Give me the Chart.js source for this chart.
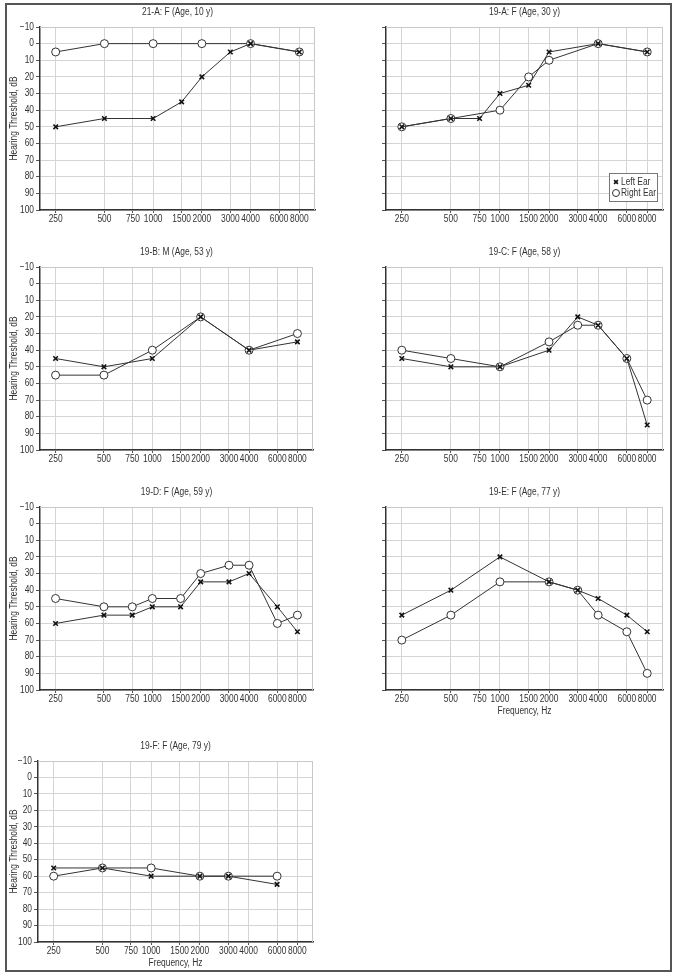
<!DOCTYPE html>
<html>
<head>
<meta charset="utf-8">
<script src="https://cdn.jsdelivr.net/npm/chart.js@4.4.1/dist/chart.umd.min.js"></script>
<style>
  html, body { margin: 0; padding: 0; background: #fff; }
  #fig { position: relative; width: 675px; height: 975px; }
  #frame { position: absolute; left: 5px; top: 3px; width: 663px; height: 965px; border: 2px solid #555; }
  .cell { position: absolute; }
</style>
</head>
<body>
<div id="fig"><div id="frame"></div></div>
<script>
// tick labels
var freqTicks = [250, 500, 750, 1000, 1500, 2000, 3000, 4000, 6000, 8000];
var dbTicks = [-10, 0, 10, 20, 30, 40, 50, 60, 70, 80, 90, 100];

var titles = ["21-A: F (Age, 10 y)", "19-A: F (Age, 30 y)", "19-B: M (Age, 53 y)",
  "19-C: F (Age, 58 y)", "19-D: F (Age, 59 y)", "19-E: F (Age, 77 y)", "19-F: F (Age, 79 y)"];

// 21-A
var a21LeftHz = [250, 500, 1000, 1500, 2000, 3000, 4000, 8000];
var a21Left = [50, 45, 45, 35, 20, 5, 0, 5];
var a21RightHz = [250, 500, 1000, 2000, 4000, 8000];
var a21Right = [5, 0, 0, 0, 0, 5];
// 19-A
var a19LeftHz = [250, 500, 750, 1000, 1500, 2000, 4000, 8000];
var a19Left = [50, 45, 45, 30, 25, 5, 0, 5];
var a19RightHz = [250, 500, 1000, 1500, 2000, 4000, 8000];
var a19Right = [50, 45, 40, 20, 10, 0, 5];
// 19-B
var b19LeftHz = [250, 500, 1000, 2000, 4000, 8000];
var b19Left = [45, 50, 45, 20, 40, 35];
var b19RightHz = [250, 500, 1000, 2000, 4000, 8000];
var b19Right = [55, 55, 40, 20, 40, 30];
// 19-C
var c19LeftHz = [250, 500, 1000, 2000, 3000, 4000, 6000, 8000];
var c19Left = [45, 50, 50, 40, 20, 25, 45, 85];
var c19RightHz = [250, 500, 1000, 2000, 3000, 4000, 6000, 8000];
var c19Right = [40, 45, 50, 35, 25, 25, 45, 70];
// 19-D
var d19LeftHz = [250, 500, 750, 1000, 1500, 2000, 3000, 4000, 6000, 8000];
var d19Left = [60, 55, 55, 50, 50, 35, 35, 30, 50, 65];
var d19RightHz = [250, 500, 750, 1000, 1500, 2000, 3000, 4000, 6000, 8000];
var d19Right = [45, 50, 50, 45, 45, 30, 25, 25, 60, 55];
// 19-E
var e19LeftHz = [250, 500, 1000, 2000, 3000, 4000, 6000, 8000];
var e19Left = [55, 40, 20, 35, 40, 45, 55, 65];
var e19RightHz = [250, 500, 1000, 2000, 3000, 4000, 6000, 8000];
var e19Right = [70, 55, 35, 35, 40, 55, 65, 90];
// 19-F
var f19LeftHz = [250, 500, 1000, 2000, 3000, 6000];
var f19Left = [55, 55, 60, 60, 60, 65];
var f19RightHz = [250, 500, 1000, 2000, 3000, 6000];
var f19Right = [60, 55, 55, 60, 60, 60];

var leftHz = [a21LeftHz, a19LeftHz, b19LeftHz, c19LeftHz, d19LeftHz, e19LeftHz, f19LeftHz];
var leftDb = [a21Left, a19Left, b19Left, c19Left, d19Left, e19Left, f19Left];
var rightHz = [a21RightHz, a19RightHz, b19RightHz, c19RightHz, d19RightHz, e19RightHz, f19RightHz];
var rightDb = [a21Right, a19Right, b19Right, c19Right, d19Right, e19Right, f19Right];

// plot boxes on the page
var boxes = [
  { col: 0, l: 40, r: 315, t: 27, b: 210 },
  { col: 1, l: 386, r: 663, t: 27, b: 210 },
  { col: 0, l: 40, r: 313, t: 267, b: 450 },
  { col: 1, l: 386, r: 663, t: 267, b: 450 },
  { col: 0, l: 40, r: 313, t: 507, b: 690 },
  { col: 1, l: 386, r: 663, t: 507, b: 690 },
  { col: 0, l: 38, r: 313, t: 761, b: 942 }
];
var xTitleOn = [false, false, false, false, false, true, true];
var legendOn = [false, true, false, false, false, false, false];

var ink = '#333';
Chart.defaults.font.family = '"Liberation Sans", Arial, sans-serif';
Chart.defaults.font.size = 10;
Chart.defaults.color = ink;

function pts(xs, ys) {
  return xs.map(function (x, i) { return { x: x, y: ys[i] }; });
}

// the original uses a narrow face; squeeze canvas text sideways
var narrowText = {
  id: 'narrowText',
  beforeInit: function (chart) {
    var c = chart.ctx;
    if (c._narrow) return;
    var fill = c.fillText;
    c.fillText = function (t, x, y, mw) {
      this.save();
      this.translate(x, y);
      this.scale(0.84, 1);
      fill.call(this, t, 0, 0);
      this.restore();
    };
    c._narrow = true;
  }
};

// light frame on top/right of the plot
var framePlugin = {
  id: 'frame',
  beforeDatasetsDraw: function (chart) {
    var a = chart.chartArea, c = chart.ctx;
    c.save();
    c.strokeStyle = '#c8c8c8';
    c.lineWidth = 1;
    c.beginPath();
    c.moveTo(a.left, a.top + 0.5);
    c.lineTo(a.right - 0.5, a.top + 0.5);
    c.lineTo(a.right - 0.5, a.bottom);
    c.stroke();
    c.restore();
  }
};

// boxed legend in the lower right of the plot
var boxLegend = {
  id: 'boxLegend',
  afterDraw: function (chart, args, opts) {
    if (!opts.show) return;
    var a = chart.chartArea, c = chart.ctx;
    var w = 48, h = 28;
    var x = a.right - 6 - w, y = a.bottom - 9 - h;
    c.save();
    c.fillStyle = '#fff';
    c.fillRect(x, y, w, h);
    c.strokeStyle = '#777';
    c.lineWidth = 1;
    c.strokeRect(x + 0.5, y + 0.5, w, h);
    c.font = '10px ' + Chart.defaults.font.family;
    c.textBaseline = 'middle';
    c.textAlign = 'left';
    chart.data.datasets.forEach(function (ds, i) {
      var yy = y + 9 + i * 11;
      c.strokeStyle = ds.pointBorderColor;
      c.fillStyle = ds.pointBackgroundColor;
      c.lineWidth = ds.pointBorderWidth;
      Chart.helpers.drawPoint(c, { pointStyle: ds.pointStyle, radius: ds.pointRadius - 0.5, borderWidth: ds.pointBorderWidth }, x + 7, yy);
      c.fillStyle = ink;
      c.fillText(ds.label, x + 12, yy + 0.5);
    });
    c.restore();
  }
};

boxes.forEach(function (p, k) {
  var cl = p.col === 0 ? 0 : 335;
  var cw = p.col === 0 ? 335 : 340;
  var ct = p.t - 27;
  var xh = 27;
  var ch = p.b - ct + xh;
  var div = document.createElement('div');
  div.className = 'cell';
  div.style.left = cl + 'px';
  div.style.top = ct + 'px';
  var cv = document.createElement('canvas');
  cv.width = cw; cv.height = ch;
  cv.style.width = cw + 'px'; cv.style.height = ch + 'px';
  div.appendChild(cv);
  document.getElementById('fig').appendChild(div);

  new Chart(cv, {
    type: 'line',
    data: {
      datasets: [
        {
          label: 'Left Ear',
          data: pts(leftHz[k], leftDb[k]),
          borderColor: ink,
          borderWidth: 1,
          pointStyle: 'crossRot',
          pointRadius: 3.2,
          pointBorderWidth: 1.6,
          pointBorderColor: '#111',
          pointBackgroundColor: '#111'
        },
        {
          label: 'Right Ear',
          data: pts(rightHz[k], rightDb[k]),
          borderColor: ink,
          borderWidth: 1,
          pointStyle: 'circle',
          pointRadius: 4,
          pointBorderWidth: 1,
          pointBorderColor: '#333',
          pointBackgroundColor: '#fff'
        }
      ]
    },
    options: {
      responsive: false,
      animation: false,
      events: [],
      layout: { padding: { left: 0, top: 0, bottom: 0, right: cl + cw - p.r } },
      plugins: {
        legend: { display: false },
        tooltip: { enabled: false },
        title: {
          display: true,
          text: titles[k],
          fullSize: false,
          color: ink,
          font: { size: 10, lineHeight: '12px', weight: 'normal' },
          padding: { top: 6, bottom: 9 }
        },
        boxLegend: { show: legendOn[k] }
      },
      scales: {
        x: {
          type: 'logarithmic',
          min: 200,
          max: 10000,
          afterBuildTicks: function (s) {
            s.ticks = freqTicks.map(function (v) { return { value: v }; });
          },
          afterFit: function (s) { s.height = xh; },
          ticks: {
            autoSkip: false,
            maxRotation: 0,
            minRotation: 0,
            padding: 0,
            color: ink,
            callback: function (v) { return String(v); }
          },
          grid: { color: '#d4d4d4', lineWidth: 1, tickLength: 3, tickColor: '#555' },
          border: { color: '#333', width: 1.5 },
          title: {
            display: xTitleOn[k],
            text: 'Frequency, Hz',
            color: ink,
            font: { size: 10 },
            padding: { top: 0, bottom: 0 }
          }
        },
        y: {
          type: 'linear',
          reverse: true,
          min: -10,
          max: 100,
          afterBuildTicks: function (s) {
            s.ticks = dbTicks.map(function (v) { return { value: v }; });
          },
          afterFit: function (s) { s.width = p.l - cl; },
          ticks: {
            display: p.col === 0,
            padding: 2,
            color: ink,
            callback: function (v) { return v < 0 ? '\u2212' + (-v) : String(v); }
          },
          grid: { color: '#d4d4d4', lineWidth: 1, tickLength: 4, tickColor: '#555' },
          border: { color: '#333', width: 1.5 },
          title: {
            display: p.col === 0,
            text: 'Hearing Threshold, dB',
            color: ink,
            font: { size: 10 },
            padding: { top: 8, bottom: 0 }
          }
        }
      }
    },
    plugins: [narrowText, framePlugin, boxLegend]
  });
});
</script>
</body>
</html>
